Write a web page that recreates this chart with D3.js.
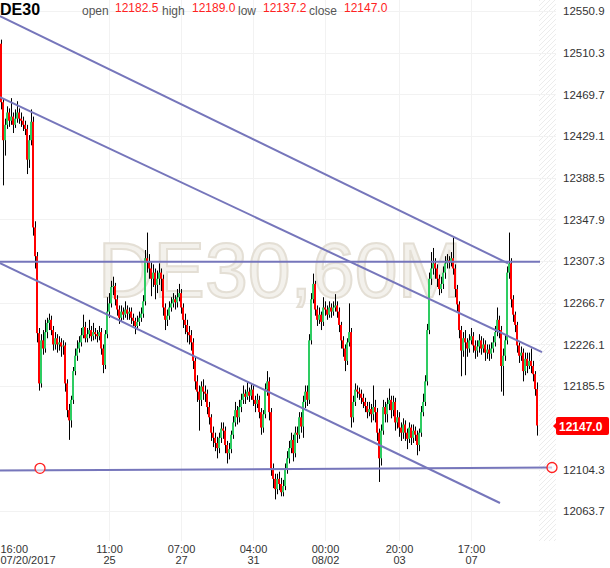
<!DOCTYPE html>
<html lang="en">
<head>
  <meta charset="UTF-8" />
  <title>DE30 60M</title>
  <script src="https://d3js.org/d3.v7.min.js"></script>
  <style>
    body { margin:0; padding:0; background:#fff; font-family:"Liberation Sans", Arial, sans-serif; }
    svg { display:block; }
    .hdr { font-size:12px; fill:#555; }
    .hdrv { font-size:12px; fill:#ff2222; }
    .yax text { font-size:11.5px; fill:#333; font-family:"Liberation Sans", Arial, sans-serif; }
    .xax text { font-size:11px; fill:#333; font-family:"Liberation Sans", Arial, sans-serif; }
  </style>
</head>
<body>
<svg width="610" height="568"></svg>
<script>
// hourly candles, 07/20/2017 16:00 onwards; open of each bar = previous close
const firstOpen = 12519;
const closes = [
  12462,12425,12440,12452,12444,12448,12440,12446,12452,12446,
  12444,12440,12436,12406,12425,12443,12340,12312,12237,12188,
  12230,12222,12238,12247,12250,12240,12226,12232,12226,12228,
  12224,12225,12188,12162,12152,12172,12200,12215,12222,12228,
  12235,12243,12232,12236,12240,12234,12238,12236,12234,12238,
  12222,12206,12236,12258,12266,12282,12283,12270,12260,12252,
  12258,12255,12260,12256,12258,12252,12249,12244,12248,12252,
  12256,12268,12310,12306,12300,12290,12296,12284,12290,12296,
  12290,12262,12250,12254,12262,12266,12270,12267,12272,12276,
  12262,12250,12245,12238,12235,12228,12210,12190,12180,12172,
  12185,12180,12178,12165,12155,12140,12135,12130,12125,12135,
  12144,12142,12128,12120,12124,12138,12150,12162,12155,12165,
  12172,12178,12175,12180,12176,12182,12172,12168,12172,12160,
  12145,12158,12182,12190,12160,12105,12095,12085,12095,12090,
  12082,12088,12105,12115,12125,12133,12120,12140,12138,12155,
  12146,12170,12180,12172,12230,12270,12285,12260,12250,12255,
  12248,12262,12260,12255,12262,12258,12262,12264,12258,12245,
  12230,12222,12210,12228,12238,12155,12170,12182,12180,12178,
  12174,12170,12166,12160,12163,12158,12165,12160,12140,12115,
  12142,12165,12158,12168,12172,12162,12170,12150,12155,12145,
  12140,12148,12140,12134,12145,12135,12142,12138,12128,12140,
  12160,12170,12190,12240,12290,12300,12305,12300,12290,12280,
  12285,12296,12305,12308,12306,12310,12300,12280,12265,12240,
  12220,12232,12228,12222,12230,12234,12225,12220,12224,12230,
  12222,12226,12218,12221,12217,12222,12228,12238,12250,12240,
  12205,12215,12230,12296,12305,12270,12255,12245,12225,12215,
  12218,12200,12212,12205,12210,12205,12197,12182.5,12147.0
];
const highs = [
  12523,12466,12446,12458,12456,12466,12452,12455,12463,12456,
  12452,12448,12444,12440,12430,12455,12448,12346,12316,12242,
  12236,12240,12250,12252,12256,12254,12244,12238,12236,12234,
  12232,12230,12228,12192,12168,12176,12204,12222,12230,12234,
  12242,12255,12248,12242,12250,12244,12247,12242,12240,12244,
  12242,12226,12240,12272,12276,12288,12292,12286,12274,12264,
  12264,12262,12268,12264,12262,12262,12256,12252,12254,12258,
  12262,12274,12318,12335,12314,12306,12304,12300,12298,12305,
  12300,12294,12266,12260,12268,12272,12276,12274,12280,12285,
  12280,12266,12256,12250,12244,12240,12232,12214,12196,12186,
  12190,12192,12186,12182,12170,12158,12146,12140,12136,12140,
  12150,12150,12146,12132,12130,12142,12156,12170,12166,12172,
  12178,12186,12182,12190,12184,12188,12186,12176,12178,12176,
  12164,12162,12188,12200,12194,12164,12110,12100,12100,12102,
  12096,12094,12110,12122,12132,12140,12138,12146,12146,12160,
  12160,12176,12186,12186,12236,12276,12295,12288,12264,12262,
  12258,12272,12268,12264,12268,12266,12268,12275,12268,12262,
  12248,12234,12226,12232,12266,12242,12176,12188,12186,12184,
  12182,12178,12174,12170,12170,12168,12186,12172,12164,12144,
  12148,12172,12170,12174,12183,12176,12176,12174,12162,12160,
  12150,12154,12152,12144,12150,12148,12148,12146,12142,12144,
  12166,12178,12196,12246,12296,12316,12320,12310,12304,12294,
  12292,12302,12312,12314,12312,12316,12330,12304,12284,12268,
  12244,12238,12240,12232,12236,12242,12238,12230,12230,12236,
  12234,12232,12230,12226,12226,12228,12234,12244,12262,12254,
  12244,12222,12236,12302,12335,12310,12274,12258,12248,12228,
  12224,12222,12218,12218,12218,12222,12210,12200,12189.0
];
const lows = [
  12455,12381,12410,12436,12438,12440,12432,12437,12442,12441,
  12438,12434,12430,12392,12398,12420,12332,12300,12228,12181,
  12184,12216,12218,12232,12240,12235,12220,12221,12218,12220,
  12214,12216,12180,12155,12133,12145,12168,12196,12210,12218,
  12224,12232,12228,12228,12232,12229,12230,12231,12228,12230,
  12216,12198,12202,12232,12252,12262,12274,12264,12254,12246,
  12248,12250,12252,12250,12250,12246,12244,12236,12240,12244,
  12248,12252,12264,12296,12290,12273,12282,12270,12276,12284,
  12278,12254,12240,12244,12250,12258,12262,12260,12262,12268,
  12256,12242,12236,12228,12226,12220,12202,12182,12170,12142,
  12166,12172,12170,12158,12148,12132,12126,12122,12115,12120,
  12130,12134,12120,12110,12114,12120,12134,12146,12148,12150,
  12160,12168,12168,12172,12170,12172,12166,12160,12164,12154,
  12138,12140,12154,12176,12152,12098,12086,12075,12080,12084,
  12078,12078,12084,12100,12110,12120,12112,12116,12130,12134,
  12140,12135,12164,12166,12168,12226,12266,12254,12244,12246,
  12240,12244,12254,12250,12252,12252,12254,12258,12252,12238,
  12222,12214,12200,12206,12224,12145,12150,12166,12174,12172,
  12168,12164,12160,12154,12156,12150,12152,12150,12132,12092,
  12108,12138,12150,12150,12162,12154,12156,12142,12144,12136,
  12132,12134,12132,12124,12130,12128,12130,12132,12118,12122,
  12136,12156,12166,12186,12236,12284,12294,12290,12282,12274,
  12276,12280,12290,12300,12300,12302,12294,12272,12258,12232,
  12195,12214,12196,12214,12218,12226,12218,12212,12214,12218,
  12216,12218,12210,12212,12210,12212,12218,12224,12234,12232,
  12180,12176,12210,12226,12290,12262,12248,12238,12218,12208,
  12210,12190,12196,12198,12202,12198,12190,12176,12137.2
];

// price axis
const yTicks = [12550.9,12510.3,12469.7,12429.1,12388.5,12347.9,12307.3,12266.7,12226.1,12185.5,12104.3,12063.7];
const lastPrice = 12147.0;

// time axis (bar index, time, date)
const tickIdx  = [0, 54, 90, 126, 162, 199, 235];
const tickTime = ["16:00", "11:00", "07:00", "04:00", "00:00", "20:00", "17:00"];
const tickDate = ["07/20/2017", "25", "27", "31", "08/02", "03", "07"];

// drawn objects: [barIndex, price] end points
const trendLines = [
  [[-0.5, 12546], [253.5, 12305]],
  [[-0.5, 12467], [270.5, 12218.6]],
  [[-0.5, 12305.3], [249.5, 12071.5]],
  [[-0.5, 12306.5], [269.5, 12306.5]],
  [[-0.5, 12103.1], [275.5, 12106.1]]
];
const markers = [[19.5, 12105.3], [275.5, 12106.1]];

const header = [["open", 12182.5], ["high", 12189.0], ["low", 12137.2], ["close", 12147.0]];

const svg = d3.select("svg");
const plotR = 556, plotB = 541;

const x = d3.scaleLinear().domain([0, 268]).range([1, 537]);
const y = d3.scaleLinear().domain([12063.7, 12550.9]).range([511, 11]);

// hatch for the empty future area
const defs = svg.append("defs");
const pat = defs.append("pattern").attr("id", "hatch")
  .attr("patternUnits", "userSpaceOnUse").attr("width", 5).attr("height", 5);
pat.append("path").attr("d", "M-1,6 L6,-1").attr("stroke", "#ececec").attr("stroke-width", 1);
svg.append("rect").attr("x", 539).attr("y", 0).attr("width", plotR - 539).attr("height", plotB)
  .attr("fill", "url(#hatch)");

// grid
svg.append("g").selectAll("line").data(yTicks).enter().append("line")
  .attr("x1", 0).attr("x2", plotR)
  .attr("y1", d => Math.round(y(d)) + 0.5).attr("y2", d => Math.round(y(d)) + 0.5)
  .attr("stroke", "#f2f2f2");
svg.append("g").selectAll("line").data(tickIdx.slice(1)).enter().append("line")
  .attr("x1", d => Math.round(x(d)) + 0.5).attr("x2", d => Math.round(x(d)) + 0.5)
  .attr("y1", 0).attr("y2", plotB)
  .attr("stroke", "#f2f2f2");

// watermark
svg.append("text").attr("x", 98).attr("y", 297)
  .attr("font-size", 77).attr("font-family", "'Liberation Sans', Arial, sans-serif")
  .attr("fill", "#f3f1ec").attr("stroke", "#e4dfd5").attr("stroke-width", 2)
  .text("DE30,60M");

// candles
const bars = closes.map((c, i) => ({
  i, o: i === 0 ? firstOpen : closes[i - 1], c, h: highs[i], l: lows[i]
}));
const cg = svg.append("g");
cg.selectAll("line").data(bars).enter().append("line")
  .attr("x1", d => Math.round(x(d.i)) + 0.5).attr("x2", d => Math.round(x(d.i)) + 0.5)
  .attr("y1", d => y(d.h)).attr("y2", d => y(d.l))
  .attr("stroke", "#000").attr("stroke-width", 1);
cg.selectAll("rect").data(bars).enter().append("rect")
  .attr("x", d => Math.round(x(d.i)) - 1).attr("width", 2)
  .attr("y", d => y(Math.max(d.o, d.c)))
  .attr("height", d => Math.max(1, Math.abs(y(d.o) - y(d.c))))
  .attr("fill", d => d.c >= d.o ? "#2ecc62" : "#ff0000");

// drawn trend lines
svg.append("g").selectAll("line").data(trendLines).enter().append("line")
  .attr("x1", d => x(d[0][0])).attr("y1", d => y(d[0][1]))
  .attr("x2", d => x(d[1][0])).attr("y2", d => y(d[1][1]))
  .attr("stroke", "#7676bb").attr("stroke-width", 2);
svg.append("g").selectAll("circle").data(markers).enter().append("circle")
  .attr("cx", d => x(d[0])).attr("cy", d => y(d[1])).attr("r", 5)
  .attr("fill", "#fff").attr("fill-opacity", 0.6)
  .attr("stroke", "#ff2020").attr("stroke-width", 1.3);

// right price axis
const yAxis = svg.append("g").attr("class", "yax").attr("transform", `translate(${plotR},0)`)
  .call(d3.axisRight(y).tickValues(yTicks).tickSize(0).tickPadding(7).tickFormat(d3.format(".1f")));
yAxis.select(".domain").remove();

// last price tag
const ly = Math.round(y(lastPrice));
svg.append("path")
  .attr("d", `M553,${ly} L557,${ly - 4} L557,${ly + 4} Z`).attr("fill", "#ff0000");
svg.append("rect").attr("x", 556).attr("y", ly - 9).attr("width", 53).attr("height", 18)
  .attr("rx", 2).attr("fill", "#ff0000");
svg.append("text").attr("x", 559).attr("y", ly + 4.5)
  .attr("font-size", 12).attr("font-weight", "bold").attr("fill", "#fff")
  .text(d3.format(".1f")(lastPrice));

// bottom time axis
const xAxis = svg.append("g").attr("class", "xax").attr("transform", `translate(0,${plotB})`)
  .call(d3.axisBottom(x).tickValues(tickIdx).tickSize(0).tickPadding(0).tickFormat(""));
xAxis.select(".domain").remove();
xAxis.selectAll(".tick text").each(function(d, k) {
  const t = d3.select(this).attr("y", 0).attr("dy", null);
  if (k === 0) t.attr("text-anchor", "start").attr("x", -1);
  t.append("tspan").attr("x", k === 0 ? -1 : 0).attr("y", 12).text(tickTime[k]);
  t.append("tspan").attr("x", k === 0 ? -1 : 0).attr("y", 23).text(tickDate[k]);
});

// header
svg.append("text").attr("x", 0).attr("y", 15)
  .attr("font-size", 16).attr("font-weight", "bold").attr("fill", "#000").text("DE30");
const hx = [[82, 115], [162, 192], [238, 263], [309, 344]];
header.forEach((h, k) => {
  svg.append("text").attr("class", "hdr").attr("x", hx[k][0]).attr("y", 15).text(h[0]);
  svg.append("text").attr("class", "hdrv").attr("x", hx[k][1]).attr("y", 12).text(d3.format(".1f")(h[1]));
});
</script>
</body>
</html>
